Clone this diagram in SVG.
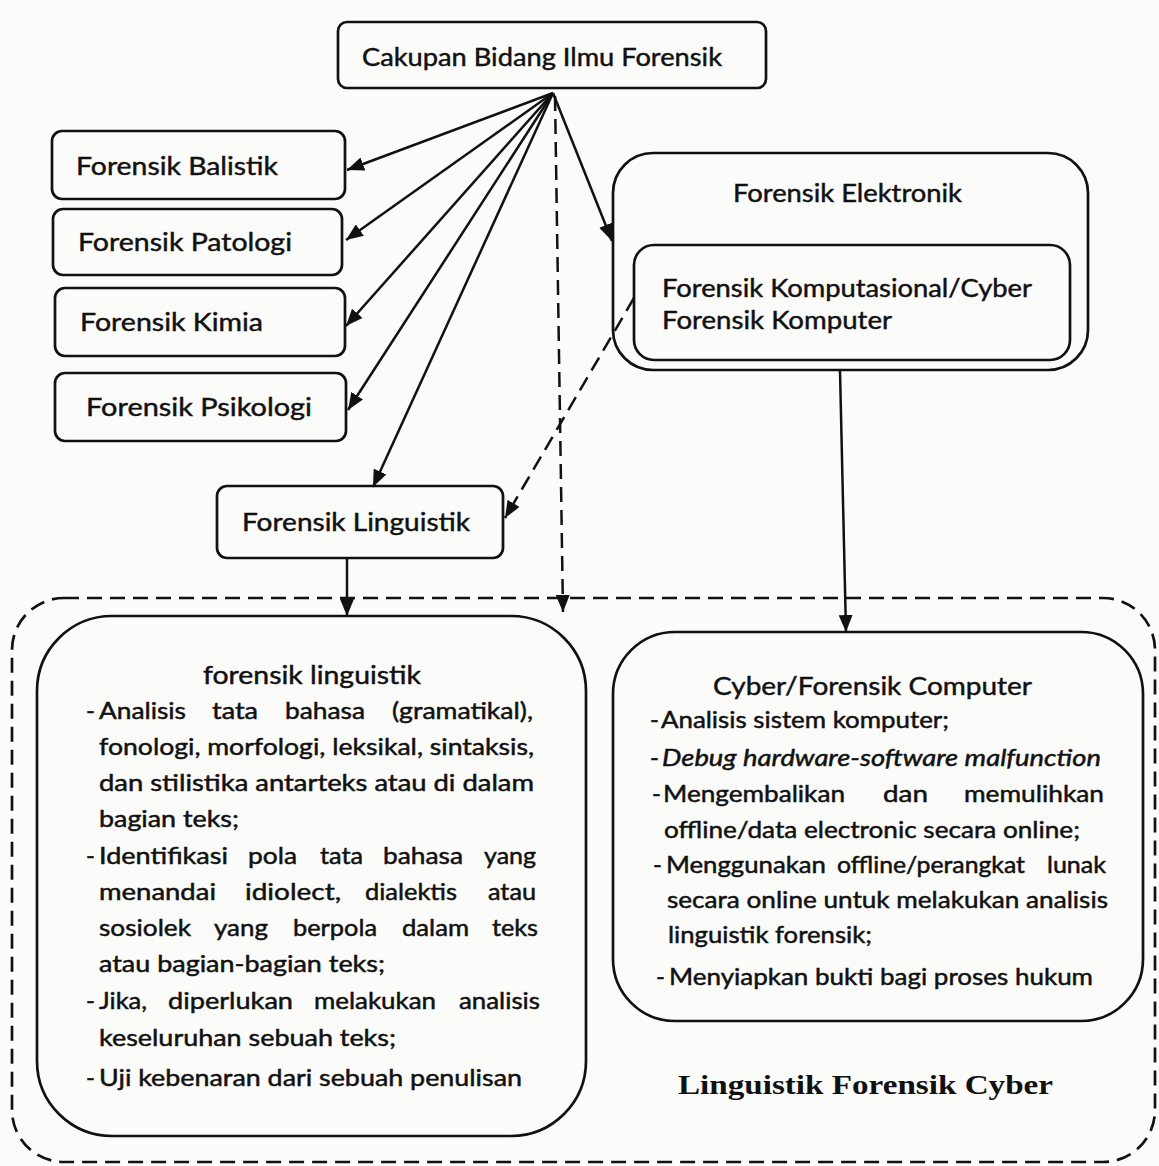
<svg xmlns="http://www.w3.org/2000/svg" width="1159" height="1166" viewBox="0 0 1159 1166">
<defs>
<style>
.box{fill:none;stroke:#111;stroke-width:2.7}
.t{font-family:Lato,"Open Sans","Liberation Sans",sans-serif;font-size:25px;fill:#111;stroke:#111;stroke-width:0.45}
.b text{font-family:Lato,"Open Sans","Liberation Sans",sans-serif;font-size:24px;fill:#111;stroke:#111;stroke-width:0.5}
.con{stroke:#111;stroke-width:2.5;fill:none}
.dash{stroke-dasharray:15 8}
.cap{font-family:"Liberation Serif","Times New Roman",serif;font-size:27px;font-weight:bold;fill:#111}
</style>
<marker id="ah" markerUnits="userSpaceOnUse" markerWidth="18" markerHeight="14" refX="17" refY="7" orient="auto">
<path d="M0,0 L17,7 L0,14 z" fill="#111"/>
</marker>
</defs>
<rect x="0" y="0" width="1159" height="1166" fill="#fbfbfa"/>

<g id="container-cyber">
<rect x="12" y="598" width="1143" height="564" rx="52" ry="52" class="box dash"/>
</g>

<g id="node-cakupan">
<rect x="338" y="22" width="428" height="66" rx="9" class="box"/>
<text x="362" y="66" class="t" textLength="360" lengthAdjust="spacingAndGlyphs">Cakupan Bidang Ilmu Forensik</text>
</g>

<g id="node-balistik">
<rect x="52" y="131" width="293" height="68" rx="10" class="box"/>
<text x="76" y="175" class="t" textLength="202" lengthAdjust="spacingAndGlyphs">Forensik Balistik</text>
</g>

<g id="node-patologi">
<rect x="53" y="209" width="289" height="66" rx="10" class="box"/>
<text x="78" y="251" class="t" textLength="214" lengthAdjust="spacingAndGlyphs">Forensik Patologi</text>
</g>

<g id="node-kimia">
<rect x="55" y="288" width="290" height="68" rx="10" class="box"/>
<text x="80" y="331" class="t" textLength="183" lengthAdjust="spacingAndGlyphs">Forensik Kimia</text>
</g>

<g id="node-psikologi">
<rect x="55" y="373" width="291" height="68" rx="10" class="box"/>
<text x="86" y="416" class="t" textLength="226" lengthAdjust="spacingAndGlyphs">Forensik Psikologi</text>
</g>

<g id="node-linguistik">
<rect x="217" y="486" width="286" height="72" rx="10" class="box"/>
<text x="242" y="531" class="t" textLength="228" lengthAdjust="spacingAndGlyphs">Forensik Linguistik</text>
</g>

<g id="node-elektronik">
<rect x="613" y="153" width="475" height="217" rx="40" class="box"/>
<text x="733" y="202" class="t" textLength="229" lengthAdjust="spacingAndGlyphs">Forensik Elektronik</text>
</g>

<g id="node-komputasional">
<rect x="634" y="245" width="436" height="115" rx="20" class="box"/>
<text x="662" y="297" class="t" textLength="370" lengthAdjust="spacingAndGlyphs">Forensik Komputasional/Cyber</text>
<text x="662" y="329" class="t" textLength="230" lengthAdjust="spacingAndGlyphs">Forensik Komputer</text>
</g>

<g id="node-forensik-linguistik">
<rect x="37" y="616" width="549" height="520" rx="75" class="box"/>
<text x="203" y="684" class="t" textLength="218" lengthAdjust="spacingAndGlyphs">forensik linguistik</text>
<g class="b">
<text x="86" y="719">-</text>
<text x="99" y="719" textLength="87" lengthAdjust="spacingAndGlyphs">Analisis</text>
<text x="212" y="719" textLength="46" lengthAdjust="spacingAndGlyphs">tata</text>
<text x="285" y="719" textLength="80" lengthAdjust="spacingAndGlyphs">bahasa</text>
<text x="392" y="719" textLength="141" lengthAdjust="spacingAndGlyphs">(gramatikal),</text>
<text x="99" y="755" textLength="435" lengthAdjust="spacingAndGlyphs">fonologi, morfologi, leksikal, sintaksis,</text>
<text x="99" y="791" textLength="435" lengthAdjust="spacingAndGlyphs">dan stilistika antarteks atau di dalam</text>
<text x="99" y="827" textLength="140" lengthAdjust="spacingAndGlyphs">bagian teks;</text>
<text x="86" y="864">-</text>
<text x="99" y="864" textLength="129" lengthAdjust="spacingAndGlyphs">Identifikasi</text>
<text x="248" y="864" textLength="49" lengthAdjust="spacingAndGlyphs">pola</text>
<text x="320" y="864" textLength="43" lengthAdjust="spacingAndGlyphs">tata</text>
<text x="383" y="864" textLength="80" lengthAdjust="spacingAndGlyphs">bahasa</text>
<text x="484" y="864" textLength="52" lengthAdjust="spacingAndGlyphs">yang</text>
<text x="99" y="900" textLength="117" lengthAdjust="spacingAndGlyphs">menandai</text>
<text x="245" y="900" textLength="96" lengthAdjust="spacingAndGlyphs">idiolect,</text>
<text x="365" y="900" textLength="92" lengthAdjust="spacingAndGlyphs">dialektis</text>
<text x="488" y="900" textLength="48" lengthAdjust="spacingAndGlyphs">atau</text>
<text x="99" y="936" textLength="92" lengthAdjust="spacingAndGlyphs">sosiolek</text>
<text x="214" y="936" textLength="54" lengthAdjust="spacingAndGlyphs">yang</text>
<text x="293" y="936" textLength="84" lengthAdjust="spacingAndGlyphs">berpola</text>
<text x="402" y="936" textLength="67" lengthAdjust="spacingAndGlyphs">dalam</text>
<text x="492" y="936" textLength="46" lengthAdjust="spacingAndGlyphs">teks</text>
<text x="99" y="972" textLength="286" lengthAdjust="spacingAndGlyphs">atau bagian-bagian teks;</text>
<text x="86" y="1009">-</text>
<text x="99" y="1009" textLength="48" lengthAdjust="spacingAndGlyphs">Jika,</text>
<text x="168" y="1009" textLength="125" lengthAdjust="spacingAndGlyphs">diperlukan</text>
<text x="314" y="1009" textLength="122" lengthAdjust="spacingAndGlyphs">melakukan</text>
<text x="459" y="1009" textLength="81" lengthAdjust="spacingAndGlyphs">analisis</text>
<text x="99" y="1046" textLength="297" lengthAdjust="spacingAndGlyphs">keseluruhan sebuah teks;</text>
<text x="86" y="1086">-</text>
<text x="99" y="1086" textLength="423" lengthAdjust="spacingAndGlyphs">Uji kebenaran dari sebuah penulisan</text>
</g>
</g>

<g id="node-cyber-computer">
<rect x="613" y="632" width="530" height="389" rx="62" class="box"/>
<text x="713" y="695" class="t" textLength="319" lengthAdjust="spacingAndGlyphs">Cyber/Forensik Computer</text>
<g class="b">
<text x="650" y="728">-</text>
<text x="661" y="728" textLength="288" lengthAdjust="spacingAndGlyphs">Analisis sistem komputer;</text>
<text x="650" y="766">-</text>
<text x="662" y="766" textLength="439" lengthAdjust="spacingAndGlyphs" font-style="italic">Debug hardware-software malfunction</text>
<text x="652" y="802">-</text>
<text x="663" y="802" textLength="182" lengthAdjust="spacingAndGlyphs">Mengembalikan</text>
<text x="883" y="802" textLength="45" lengthAdjust="spacingAndGlyphs">dan</text>
<text x="964" y="802" textLength="140" lengthAdjust="spacingAndGlyphs">memulihkan</text>
<text x="664" y="838" textLength="416" lengthAdjust="spacingAndGlyphs">offline/data electronic secara online;</text>
<text x="653" y="873">-</text>
<text x="666" y="873" textLength="160" lengthAdjust="spacingAndGlyphs">Menggunakan</text>
<text x="837" y="873" textLength="188" lengthAdjust="spacingAndGlyphs">offline/perangkat</text>
<text x="1047" y="873" textLength="59" lengthAdjust="spacingAndGlyphs">lunak</text>
<text x="667" y="908" textLength="441" lengthAdjust="spacingAndGlyphs">secara online untuk melakukan analisis</text>
<text x="668" y="943" textLength="204" lengthAdjust="spacingAndGlyphs">linguistik forensik;</text>
<text x="656" y="985">-</text>
<text x="669" y="985" textLength="424" lengthAdjust="spacingAndGlyphs">Menyiapkan bukti bagi proses hukum</text>
</g>
</g>

<g id="caption">
<text x="678" y="1094" class="cap" textLength="375" lengthAdjust="spacingAndGlyphs">Linguistik Forensik Cyber</text>
</g>

<g id="connectors">
<line x1="553" y1="93" x2="347" y2="170" class="con" marker-end="url(#ah)"/>
<line x1="553" y1="93" x2="346" y2="240" class="con" marker-end="url(#ah)"/>
<line x1="553" y1="93" x2="346" y2="326" class="con" marker-end="url(#ah)"/>
<line x1="553" y1="93" x2="348" y2="410" class="con" marker-end="url(#ah)"/>
<line x1="553" y1="93" x2="373" y2="487" class="con" marker-end="url(#ah)"/>
<line x1="553" y1="93" x2="612" y2="241" class="con" marker-end="url(#ah)"/>
<line x1="555" y1="96" x2="563" y2="612" class="con dash" marker-end="url(#ah)"/>
<line x1="634" y1="298" x2="505" y2="518" class="con dash" marker-end="url(#ah)"/>
<line x1="347" y1="558" x2="347" y2="616" class="con" marker-end="url(#ah)"/>
<line x1="840" y1="371" x2="846" y2="632" class="con" marker-end="url(#ah)"/>
</g>
</svg>
